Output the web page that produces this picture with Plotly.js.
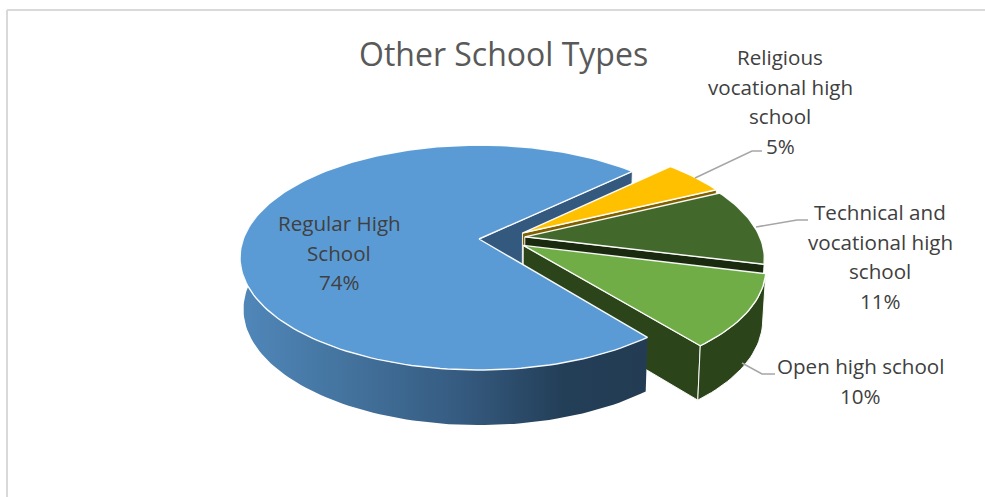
<!DOCTYPE html>
<html>
<head>
<meta charset="utf-8">
<script src="https://cdn.plot.ly/plotly-3.0.1.min.js"></script>
<style>html,body{margin:0;padding:0;background:#fff;overflow:hidden}#chart{width:985px;height:497px}</style>
</head>
<body>
<div id="chart"></div>
<script>
// ---- data ----
const chartTitle = "Other School Types";
const categories = ["Regular High School", "Religious vocational high school", "Technical and vocational high school", "Open high school"];
const values = [73.6, 5, 11, 10.4];
const labelLines = [["Regular High", "School"], ["Religious", "vocational high", "school"], ["Technical and", "vocational high", "school"], ["Open high school"]];
const topColors = ["#5b9bd5", "#ffc000", "#43682b", "#70ad47"];
const innerWallColors = ["#34597e", "#7f6000", "#1a2a0f", "#2c441a"];

// ---- pie geometry (style only) ----
const firstSliceClock = 141.5;
const explodeU = [0, 0.186, 0.195, 0.186];
const explodeV = [0, -0.055, -0.02, 0.058];
const cx = 479, cy = 239, a = 235.7, b = 109.4, k = 0.165;
const labelAnchors = [[339, 223], [780, 57], [880, 212], [860, 366]];
const lineGap = 29.5;

// disc point → picture point, with perspective
function discPt(clock, i, r) {
  const t = clock * Math.PI / 180;
  const u = r * Math.sin(t) + explodeU[i], v = -r * Math.cos(t) + explodeV[i];
  const d = 1 - k * v;
  return [cx + a * u / d, cy + b * v / d];
}
function low(p) {
  return [510 + 0.987 * (p[0] - 510), p[1] + 53 + (p[1] - 300) * 0.03];
}
function arc(c0, c1, i) {
  const pts = [], n = Math.max(2, Math.ceil(Math.abs(c1 - c0) / 1.5));
  for (let j = 0; j <= n; j++) pts.push(discPt(c0 + (c1 - c0) * j / n, i, 1));
  return pts;
}
function poly(pts, fill, name, lineW, lineC, extra) {
  return Object.assign({
    type: "scatter", mode: "lines", name: name, showlegend: false, hoverinfo: "skip",
    x: pts.map(p => p[0]).concat([pts[0][0]]), y: pts.map(p => p[1]).concat([pts[0][1]]),
    fill: "toself", fillcolor: fill,
    line: { color: lineC || "rgba(255,255,255,0)", width: lineW || 0 }
  }, extra || {});
}

// angular extent of each slice, from the values
const total = values.reduce((s, v) => s + v, 0);
const startAt = [], endAt = [];
let acc = firstSliceClock;
values.forEach((v, i) => { startAt.push(acc); acc += v / total * 360; endAt.push(acc); });

const edge = "rgba(255,255,255,0.95)";
const traces = [];
// 1. inner wall of the big slice, seen through the gap
const blueCorner = discPt(endAt[0], 0, 1), blueApex = discPt(0, 0, 0);
traces.push(poly([blueApex, blueCorner, low(blueCorner), low(blueApex)], innerWallColors[0], categories[0] + " inner wall", 1, edge));
// 2. religious and technical: wall then top
[1, 2].forEach(i => {
  const ap = discPt(0, i, 0), c = discPt(endAt[i], i, 1);
  traces.push(poly([ap, c, low(c), low(ap)], innerWallColors[i], categories[i] + " wall", 1, edge));
  traces.push(poly([ap].concat(arc(startAt[i], endAt[i], i)), topColors[i], categories[i], 1.4, edge));
});
// 3. open: inner and outer walls
const oAp = discPt(0, 3, 0), oC = discPt(endAt[3], 3, 1);
traces.push(poly([oAp, oC, low(oC), low(oAp)], innerWallColors[3], categories[3] + " inner wall", 1, edge));
const oArc = arc(startAt[3], endAt[3], 3);
traces.push(poly(oArc.concat(oArc.slice().reverse().map(low)), innerWallColors[3], categories[3] + " outer wall", 1, edge));
// 4. big slice: outer wall then top
const bArc = arc(startAt[0], 282, 0);
traces.push(poly(bArc.concat(bArc.slice().reverse().map(low)), "#34597e", categories[0] + " outer wall", 0, null, {
  fillgradient: { type: "horizontal", start: 240, stop: 646,
    colorscale: [[0, "#5087ba"], [0.25, "#44749f"], [0.55, "#355a7f"], [0.8, "#233e57"], [1, "#233c54"]] }
}));
traces.push(poly([blueApex].concat(arc(startAt[0], endAt[0], 0)), topColors[0], categories[0], 1.4, edge));
// 5. open: top
traces.push(poly([oAp].concat(oArc), topColors[3], categories[3], 1.4, edge));

// ---- text ----
const annotations = [];
function put(text, x, y, size, color) {
  annotations.push({ text: text, x: x, y: y, xref: "x", yref: "y", showarrow: false, xanchor: "center", yanchor: "middle",
    font: { family: "Open Sans, sans-serif", size: size, color: color } });
}
put(chartTitle, 503, 53, 32, "#595959");
labelLines.forEach((lines, i) => {
  const all = lines.concat([Math.round(values[i] / total * 100) + "%"]);
  all.forEach((t, j) => put(t, labelAnchors[i][0], labelAnchors[i][1] + j * lineGap, 20.6, "#404040"));
});

// leader lines and the frame
const gray = { color: "#a6a6a6", width: 1.5 };
const frame = { color: "#d9d9d9", width: 2 };
const shapes = [
  { type: "path", xref: "x", yref: "y", path: "M695,178 L752,151 L762,151", line: gray },
  { type: "path", xref: "x", yref: "y", path: "M756,227 L797,220 L808,220", line: gray },
  { type: "path", xref: "x", yref: "y", path: "M742,363 L762,374 L775,374", line: gray },
  { type: "line", xref: "x", yref: "y", x0: 7, y0: 10, x1: 985, y1: 10, line: frame },
  { type: "line", xref: "x", yref: "y", x0: 7, y0: 10, x1: 7, y1: 497, line: frame }
];

Plotly.newPlot("chart", traces, {
  width: 985, height: 497, margin: { l: 0, r: 0, t: 0, b: 0 },
  paper_bgcolor: "#fff", plot_bgcolor: "#fff", showlegend: false,
  xaxis: { range: [0, 985], visible: false, fixedrange: true },
  yaxis: { range: [497, 0], visible: false, fixedrange: true },
  annotations: annotations, shapes: shapes
}, { displayModeBar: false, staticPlot: true });
</script>
</body>
</html>
